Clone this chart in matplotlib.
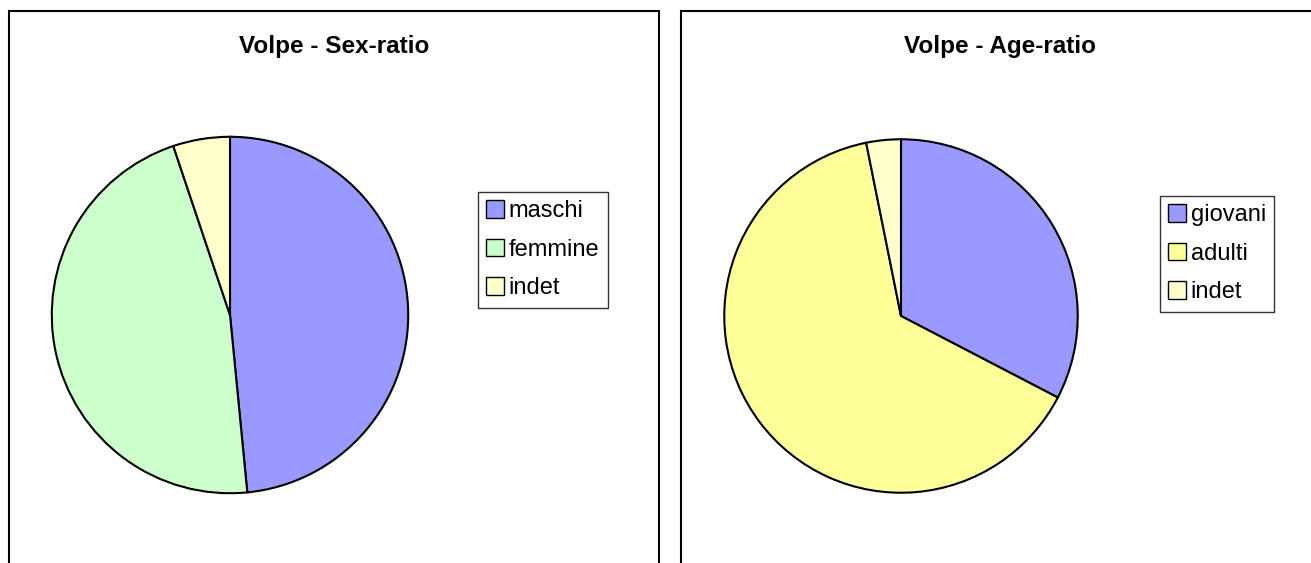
import matplotlib
matplotlib.use("Agg")
import matplotlib.pyplot as plt
from matplotlib.patches import Rectangle, Patch

plt.rcParams['font.family'] = ['Liberation Sans', 'DejaVu Sans']

# data (counts)
sex_labels = ['maschi', 'femmine', 'indet']
sex_values = [47, 45, 5]
sex_colors = ['#9999FF', '#CCFFCC', '#FFFFCC']

age_labels = ['giovani', 'adulti', 'indet']
age_values = [31, 61, 3]
age_colors = ['#9999FF', '#FFFF99', '#FFFFCC']

W, H = 1311, 563
fig = plt.figure(figsize=(W / 100, H / 100), dpi=100)


def px_box(x0, y0, x1, y1):
    # pixel box (top-left origin) -> figure fraction rect
    return [x0 / W, 1 - y1 / H, (x1 - x0) / W, (y1 - y0) / H]


def panel(x0, x1, title, title_x, cx, cy, r, values, labels, colors, leg_x, leg_y):
    fig.patches.append(Rectangle((x0 / W, -0.1), (x1 - x0) / W, 1 - 11 / H + 0.1,
                                 transform=fig.transFigure, fill=False,
                                 edgecolor='black', linewidth=1.5, clip_on=False))
    fig.text(title_x / W, 1 - 46 / H, title, ha='center', va='center',
             fontsize=17.5, fontweight='bold')
    ax = fig.add_axes(px_box(cx - r, cy - r, cx + r, cy + r))
    wedges, _ = ax.pie(values, colors=colors, startangle=90, counterclock=False,
                       radius=1, wedgeprops=dict(edgecolor='black', linewidth=1.5))
    ax.set_xlim(-1.01, 1.01)
    ax.set_ylim(-1.01, 1.01)
    ax.axis('off')
    handles = [Patch(facecolor=c, edgecolor='black', linewidth=1) for c in colors]
    leg = fig.legend(handles, labels, loc='upper left',
                     bbox_to_anchor=(leg_x / W, 1 - leg_y / H),
                     fontsize=17, frameon=True, fancybox=False,
                     handlelength=0.75, handleheight=0.75, handletextpad=0.2,
                     labelspacing=0.7, borderpad=0.35, borderaxespad=0)
    leg.get_frame().set_edgecolor('black')
    leg.get_frame().set_linewidth(1)


panel(9, 659, 'Volpe - Sex-ratio', 334, 230, 315, 180,
      sex_values, sex_labels, sex_colors, 478, 192)
panel(681, 1340, 'Volpe - Age-ratio', 1000, 901, 316, 178.5,
      age_values, age_labels, age_colors, 1160, 196)

fig.savefig('out.png', dpi=100)
